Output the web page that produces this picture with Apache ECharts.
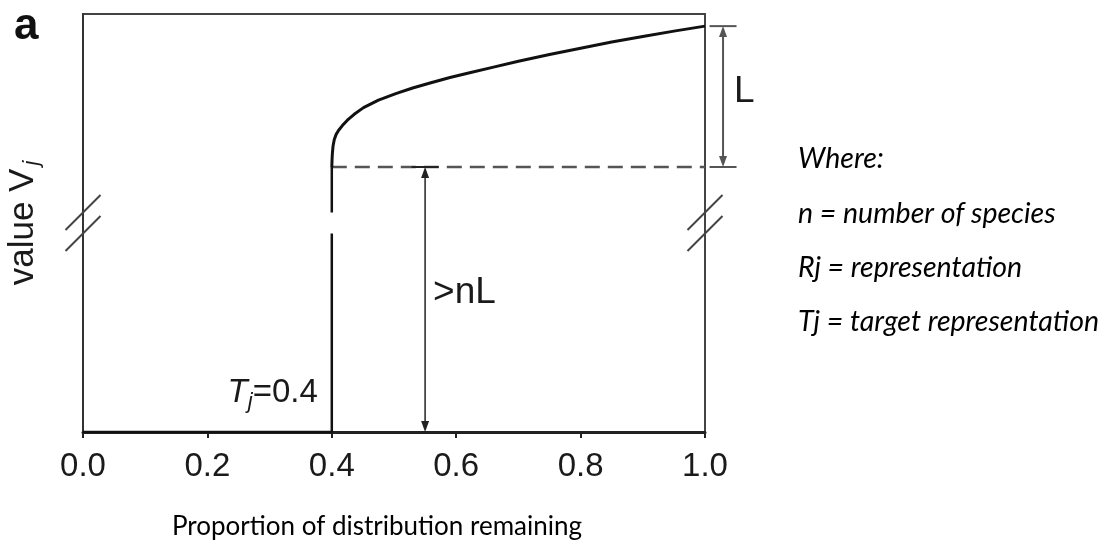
<!DOCTYPE html>
<html>
<head>
<meta charset="utf-8">
<title>Value function</title>
<script src="https://cdn.jsdelivr.net/npm/echarts@6.0.0/dist/echarts.min.js"></script>
<style>
  html, body { margin: 0; padding: 0; background: #ffffff; }
  #chart { width: 1104px; height: 542px; }
</style>
</head>
<body>
<div id="chart"></div>
<script>
// x axis ticks (proportion of distribution remaining)
const xTicks = [0.0, 0.2, 0.4, 0.6, 0.8, 1.0];
// target representation T_j
const targetT = 0.4;
// value jumps to this level at the target, and rises along the curve above it
const levelV = 63.4;
const curveX = [0.400, 0.4005, 0.401, 0.402, 0.404, 0.407, 0.411, 0.417, 0.425, 0.436, 0.451, 0.475, 0.504, 0.530, 0.558, 0.590, 0.620, 0.660, 0.700, 0.750, 0.800, 0.850, 0.900, 0.950, 1.000];
const curveV = [63.4, 65.5, 66.8, 68.4, 70.0, 71.2, 72.2, 73.3, 74.6, 76.0, 77.6, 79.4, 81.0, 82.3, 83.5, 84.8, 85.9, 87.3, 88.7, 90.3, 91.8, 93.3, 94.6, 95.9, 97.1];
// broken section of the value axis
const breakLow = 47.5;
const breakHigh = 52.5;
// dimension arrows: [x, from value, to value, label]
const arrowNL = [0.55, 0, levelV, '>nL'];
const arrowL = [1.029, levelV, curveV[curveV.length - 1], 'L'];
// notes beside the plot
const noteLines = ['Where:', 'n = number of species', 'Rj = representation', 'Tj = target representation'];
const xAxisTitle = 'Proportion of distribution remaining';

const INK = '#1a1a1a';
const SANS = '"Liberation Sans", Arial, sans-serif';
const NOTE_FONT = 'Lato, "Open Sans", sans-serif';

// value below the target is zero; vertical jump at the target, interrupted by the axis break
const stepData = [[0, 0], [targetT, 0], [targetT, breakLow], [targetT, '-'], [targetT, breakHigh], [targetT, levelV]];
const curveData = curveX.map((x, i) => [x, curveV[i]]);
const dashData = [[targetT, levelV], [xTicks[xTicks.length - 1], levelV]];
const breakData = [[xTicks[0], breakLow], [xTicks[0], breakHigh], [xTicks[xTicks.length - 1], breakLow], [xTicks[xTicks.length - 1], breakHigh]];

function renderArrow(params, api) {
  const x = api.value(0);
  const a = api.coord([x, api.value(1)]);
  const b = api.coord([x, api.value(2)]);
  const cx = a[0];
  const top = Math.min(a[1], b[1]);
  const bot = Math.max(a[1], b[1]);
  const isL = params.dataIndex === 1;
  const color = isL ? '#555' : '#222';
  const lw = isL ? 2 : 1.5;
  const head = 11, half = 4;
  const cap = 13.5;
  const label = api.value(3);
  const mid = (top + bot) / 2;
  return {
    type: 'group',
    children: [
      { type: 'line', shape: { x1: cx, y1: top + head - 1, x2: cx, y2: bot - head + 1 }, style: { stroke: color, lineWidth: lw } },
      { type: 'polygon', shape: { points: [[cx, top], [cx - half, top + head], [cx + half, top + head]] }, style: { fill: color } },
      { type: 'polygon', shape: { points: [[cx, bot], [cx - half, bot - head], [cx + half, bot - head]] }, style: { fill: color } },
      { type: 'line', shape: { x1: cx - cap, y1: top, x2: cx + cap, y2: top }, style: { stroke: color, lineWidth: 2 } },
      { type: 'line', shape: { x1: cx - cap, y1: bot, x2: cx + cap, y2: bot }, style: { stroke: color, lineWidth: 2 } },
      {
        type: 'text',
        x: cx + (isL ? 11 : 8),
        y: mid - (isL ? 5 : 7),
        style: { text: label, fontSize: 37, fontFamily: SANS, fill: INK, align: 'left', verticalAlign: 'middle' }
      }
    ]
  };
}

function renderBreak(params, api) {
  const p = api.coord([api.value(0), api.value(1)]);
  const d = 17.5;
  return {
    type: 'line',
    shape: { x1: p[0] - d, y1: p[1] + d, x2: p[0] + d, y2: p[1] - d },
    style: { stroke: '#444', lineWidth: 2 }
  };
}

function renderTargetLabel(params, api) {
  const p = api.coord([api.value(0), 0]);
  return {
    type: 'text',
    x: p[0] - 14,
    y: p[1] - 19,
    style: {
      text: '{t|T}{s|j}{v|=' + api.value(0).toFixed(1) + '}',
      align: 'right',
      verticalAlign: 'bottom',
      fill: INK,
      rich: {
        t: { fontSize: 33, fontStyle: 'italic', fontFamily: SANS, lineHeight: 40, fill: INK },
        s: { fontSize: 22, fontStyle: 'italic', fontFamily: SANS, lineHeight: 14, verticalAlign: 'bottom', fill: INK },
        v: { fontSize: 33, fontFamily: SANS, lineHeight: 40, fill: INK }
      }
    }
  };
}

const chart = echarts.init(document.getElementById('chart'), null, { renderer: 'canvas' });

chart.setOption({
  animation: false,
  backgroundColor: '#ffffff',
  title: [
    { text: 'a', left: 14, top: 5, padding: 0, textStyle: { fontSize: 44, fontWeight: 'bold', fontFamily: SANS, color: '#111' } },
    { text: xAxisTitle, left: 172, top: 514, padding: 0, textStyle: { fontSize: 26, fontWeight: 'normal', fontFamily: NOTE_FONT, color: '#000' } },
    { text: noteLines.join('\n'), left: 798, top: 132, padding: 0, textStyle: { fontSize: 28.5, fontWeight: 'normal', fontStyle: 'italic', lineHeight: 54.3, fontFamily: NOTE_FONT, color: '#000' } }
  ],
  grid: {
    left: 83, right: 399, top: 14, bottom: 110,
    containLabel: false,
    outerBoundsMode: 'none',
    show: true, borderColor: '#444', borderWidth: 2, backgroundColor: 'transparent'
  },
  xAxis: {
    type: 'value',
    min: xTicks[0],
    max: xTicks[xTicks.length - 1],
    interval: 0.2,
    axisLine: { show: true, lineStyle: { color: '#222', width: 3 } },
    axisTick: { show: true, inside: false, length: 6, lineStyle: { color: '#222', width: 2 } },
    axisLabel: { fontSize: 33, fontFamily: SANS, color: INK, margin: 18, formatter: v => v.toFixed(1) },
    splitLine: { show: false }
  },
  yAxis: {
    type: 'value',
    min: 0,
    max: 100,
    axisLine: { show: true, lineStyle: { color: '#333', width: 2 } },
    axisTick: { show: false },
    axisLabel: { show: false },
    splitLine: { show: false },
    name: '{v|value V}{s|j}',
    nameLocation: 'middle',
    nameGap: 40,
    nameRotate: 90,
    nameTextStyle: {
      rich: {
        v: { fontSize: 35, fontFamily: SANS, color: INK, lineHeight: 40 },
        s: { fontSize: 22, fontStyle: 'italic', fontFamily: SANS, color: INK, lineHeight: 14, verticalAlign: 'bottom', padding: [0, 0, 0, 3] }
      }
    }
  },
  series: [
    {
      name: 'step', type: 'line', data: stepData, showSymbol: false, connectNulls: false,
      lineStyle: { color: '#111', width: 2.5 }, z: 3
    },
    {
      name: 'value', type: 'line', data: curveData, showSymbol: false, smooth: false,
      lineStyle: { color: '#111', width: 3, join: 'round' }, z: 3
    },
    {
      name: 'level', type: 'line', data: dashData, showSymbol: false,
      lineStyle: { color: '#555', width: 2.5, type: [15, 8] }, z: 2
    },
    {
      name: 'arrows', type: 'custom', clip: false, renderItem: renderArrow,
      data: [arrowNL, arrowL], encode: { x: 0, y: [1, 2] }, z: 4
    },
    {
      name: 'breaks', type: 'custom', clip: false, renderItem: renderBreak,
      data: breakData, encode: { x: 0, y: 1 }, z: 4
    },
    {
      name: 'target', type: 'custom', clip: false, renderItem: renderTargetLabel,
      data: [[targetT]], encode: { x: 0 }, z: 4
    }
  ]
});
</script>
</body>
</html>
